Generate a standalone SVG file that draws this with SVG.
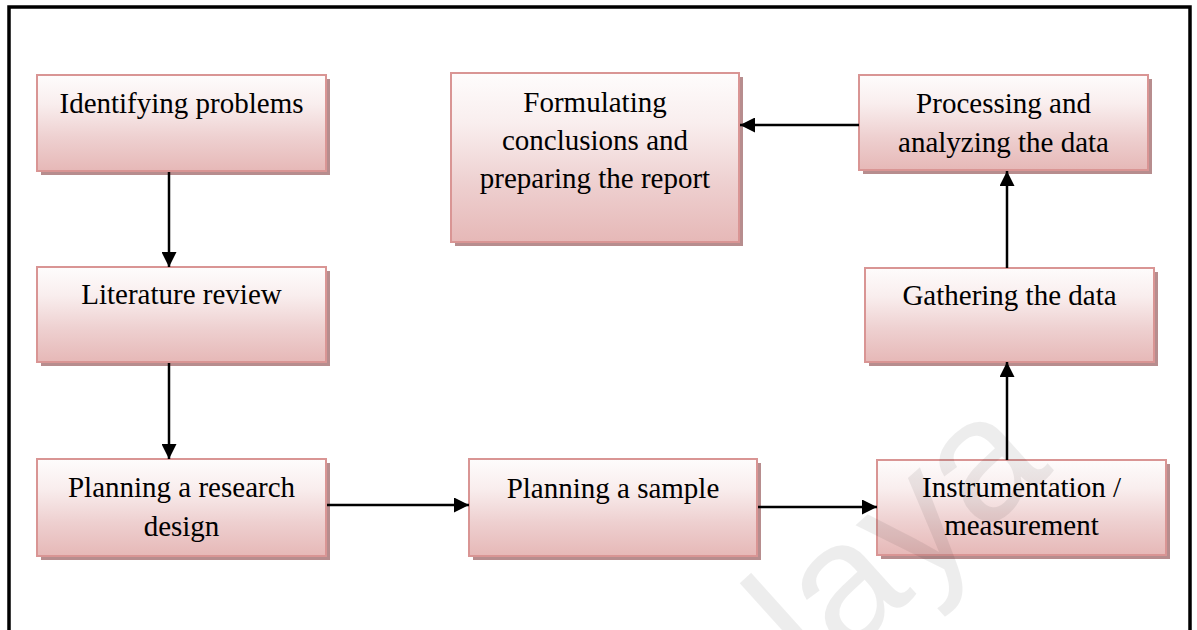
<svg xmlns="http://www.w3.org/2000/svg" width="1197" height="630" viewBox="0 0 1197 630">
  <style>
    .shadow { fill: #b78d8e; }
    .box { fill: url(#pinkFade); stroke: #d99594; stroke-width: 2; }
    .label { font-family: "Liberation Serif", "Times New Roman", serif; font-size: 29px; fill: #000; text-anchor: middle; }
    .link { fill: none; stroke: #000; stroke-width: 2.5; marker-end: url(#head); }
    .mark { font-family: "Liberation Sans", Arial, sans-serif; font-size: 175px; fill: #000; fill-opacity: 0.07; }
  </style>
  <defs>
    <linearGradient id="pinkFade" x1="0" y1="0" x2="0" y2="1">
      <stop offset="0" stop-color="#fefcfc"/>
      <stop offset="0.3" stop-color="#f9eeee"/>
      <stop offset="0.65" stop-color="#eed0d0"/>
      <stop offset="1" stop-color="#e6b8b7"/>
    </linearGradient>
    <marker id="head" markerUnits="userSpaceOnUse" markerWidth="16" markerHeight="15" refX="15" refY="7.5" orient="auto">
      <path d="M0,0 L15,7.5 L0,15 Z" fill="#000"/>
    </marker>
  </defs>

  <rect width="1197" height="630" fill="#fff"/>

  <!-- outer frame -->
  <rect x="9" y="7" width="1181" height="660" fill="none" stroke="#000" stroke-width="3.5"/>

  <!-- steps -->
  <g id="identifying-problems">
    <rect class="shadow" x="41" y="79" width="289" height="96"/>
    <rect class="box" x="37" y="75" width="289" height="96"/>
    <text class="label" x="181.5" y="113">Identifying problems</text>
  </g>

  <g id="literature-review">
    <rect class="shadow" x="41" y="271" width="289" height="95"/>
    <rect class="box" x="37" y="267" width="289" height="95"/>
    <text class="label" x="181.5" y="304">Literature review</text>
  </g>

  <g id="research-design">
    <rect class="shadow" x="41" y="463" width="289" height="97"/>
    <rect class="box" x="37" y="459" width="289" height="97"/>
    <text class="label" x="181.5" y="497">Planning a research</text>
    <text class="label" x="181.5" y="536">design</text>
  </g>

  <g id="planning-sample">
    <rect class="shadow" x="473" y="463" width="288" height="97"/>
    <rect class="box" x="469" y="459" width="288" height="97"/>
    <text class="label" x="613" y="498">Planning a sample</text>
  </g>

  <g id="instrumentation">
    <rect class="shadow" x="881" y="464" width="289" height="95"/>
    <rect class="box" x="877" y="460" width="289" height="95"/>
    <text class="label" x="1021.5" y="497">Instrumentation /</text>
    <text class="label" x="1021.5" y="535">measurement</text>
  </g>

  <g id="gathering-data">
    <rect class="shadow" x="869" y="272" width="289" height="94"/>
    <rect class="box" x="865" y="268" width="289" height="94"/>
    <text class="label" x="1009.5" y="305">Gathering the data</text>
  </g>

  <g id="processing-data">
    <rect class="shadow" x="863" y="79" width="289" height="95"/>
    <rect class="box" x="859" y="75" width="289" height="95"/>
    <text class="label" x="1003.5" y="113">Processing and</text>
    <text class="label" x="1003.5" y="152">analyzing the data</text>
  </g>

  <g id="formulating-conclusions">
    <rect class="shadow" x="455" y="77" width="288" height="169"/>
    <rect class="box" x="451" y="73" width="288" height="169"/>
    <text class="label" x="595" y="112">Formulating</text>
    <text class="label" x="595" y="150">conclusions and</text>
    <text class="label" x="595" y="188">preparing the report</text>
  </g>

  <!-- connectors -->
  <g id="connectors">
    <line class="link" x1="169" y1="172" x2="169" y2="267"/>
    <line class="link" x1="169" y1="363" x2="169" y2="459"/>
    <line class="link" x1="327" y1="505" x2="469" y2="505"/>
    <line class="link" x1="758" y1="507" x2="877" y2="507"/>
    <line class="link" x1="1007" y1="460" x2="1007" y2="362"/>
    <line class="link" x1="1007" y1="268" x2="1007" y2="171"/>
    <line class="link" x1="859" y1="125" x2="740" y2="125"/>
  </g>

  <!-- faint watermark -->
  <text class="mark" x="635" y="848" transform="rotate(-42 635 848)">Malaya</text>
</svg>
